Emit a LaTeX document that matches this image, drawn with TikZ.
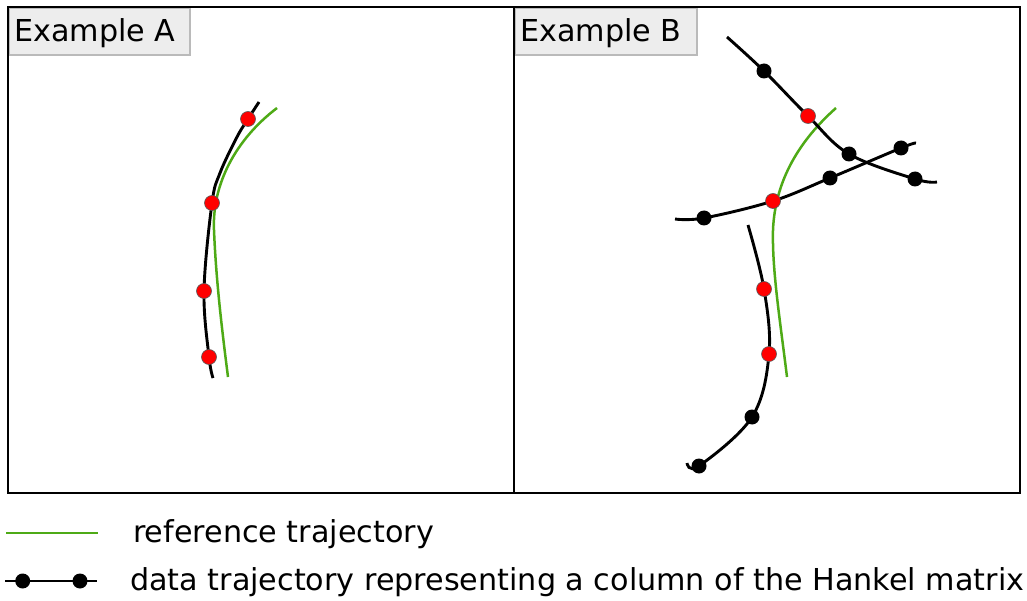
\documentclass[tikz,border=0pt]{standalone}
\usepackage{fontspec}
\setmainfont{DejaVu Sans}
\definecolor{refgreen}{RGB}{78,170,22}
\begin{document}
\begin{tikzpicture}[x=1pt,y=-1pt,
  traj/.style={line width=2.9pt, black, line cap=butt},
  reftraj/.style={line width=2.5pt, refgreen},
  reddot/.style={circle, fill=red, draw=black!65, line width=0.6pt, inner sep=0pt, minimum size=15pt},
  blackdot/.style={circle, fill=black, inner sep=0pt, minimum size=15pt},
  labelbox/.style={fill=black!7, draw=black!27, line width=2.4pt},
  frame/.style={draw=black, line width=2pt},
  txt/.style={font=\fontsize{30.2}{36}\selectfont, anchor=base west, inner sep=0pt}]
\useasboundingbox (0,0) rectangle (1027,601);

% label boxes
\draw[labelbox] (9,8) rectangle (190,55);
\draw[labelbox] (515,8) rectangle (697,55);
\node[txt] (la) at (14,42) {Example A};
\node[txt] (lb) at (520,42) {Example B};

% frame
\draw[frame] (8,7) rectangle (1020,493);
\draw[frame] (514,7) -- (514,493);

% ---------- Example A ----------
\coordinate (ga1) at (277,108);
\coordinate (ga2) at (214,230);
\coordinate (ga3) at (228,377);
\draw[reftraj] (ga1) .. controls (235,140) and (212,185) .. (ga2) .. controls (216,280) and (222,330) .. (ga3);
\coordinate (as) at (259,102);
\coordinate (ae) at (213,378);
\draw[traj] plot[smooth, tension=0.6] coordinates {(as) (248,119) (237,137) (220,173) (212,203) (204,291) (209,357) (ae)};
\node[reddot] (a1) at (248,119) {};
\node[reddot] (a2) at (212,203) {};
\node[reddot] (a3) at (204,291) {};
\node[reddot] (a4) at (209,357) {};

% ---------- Example B ----------
\coordinate (gb1) at (836,108);
\coordinate (gb2) at (773,230);
\coordinate (gb3) at (787,377);
\draw[reftraj] (gb1) .. controls (800,140) and (775,180) .. (gb2) .. controls (772,270) and (780,320) .. (gb3);
\coordinate (b1s) at (727,37);
\coordinate (b1e) at (937,182);
\draw[traj] plot[smooth, tension=0.6] coordinates {(b1s) (764,71) (808,116) (849,154) (915,179) (b1e)};
\coordinate (b2s) at (675,219);
\coordinate (b2e) at (916,143);
\draw[traj] plot[smooth, tension=0.6] coordinates {(b2s) (704,218) (773,201) (830,178) (901,148) (b2e)};
\coordinate (b3s) at (748,225);
\coordinate (b3e) at (687,463);
\draw[traj] plot[smooth, tension=0.6] coordinates {(b3s) (764,289) (769,354) (752,417) (699,466) (b3e)};

\node[blackdot] (p1) at (764,71) {};
\node[reddot]   (p2) at (808,116) {};
\node[blackdot] (p3) at (849,154) {};
\node[blackdot] (p4) at (915,179) {};
\node[blackdot] (q1) at (704,218) {};
\node[reddot]   (q2) at (773,201) {};
\node[blackdot] (q3) at (830,178) {};
\node[blackdot] (q4) at (901,148) {};
\node[reddot]   (r1) at (764,289) {};
\node[reddot]   (r2) at (769,354) {};
\node[blackdot] (r3) at (752,417) {};
\node[blackdot] (r4) at (699,466) {};

% ---------- legend ----------
\coordinate (g1) at (6,533);
\coordinate (g2) at (98,533);
\draw[reftraj] (g1) -- (g2);
\node[txt] (lt1) at (133,542.5) {reference trajectory};
\coordinate (k1) at (5,581);
\coordinate (k2) at (97,581);
\draw[traj] (k1) -- (k2);
\node[blackdot] (kd1) at (22.7,581) {};
\node[blackdot] (kd2) at (80,581) {};
\node[txt] (lt2) at (130,590.5) {data trajectory representing a column of the Hankel matrix};
\end{tikzpicture}
\end{document}
